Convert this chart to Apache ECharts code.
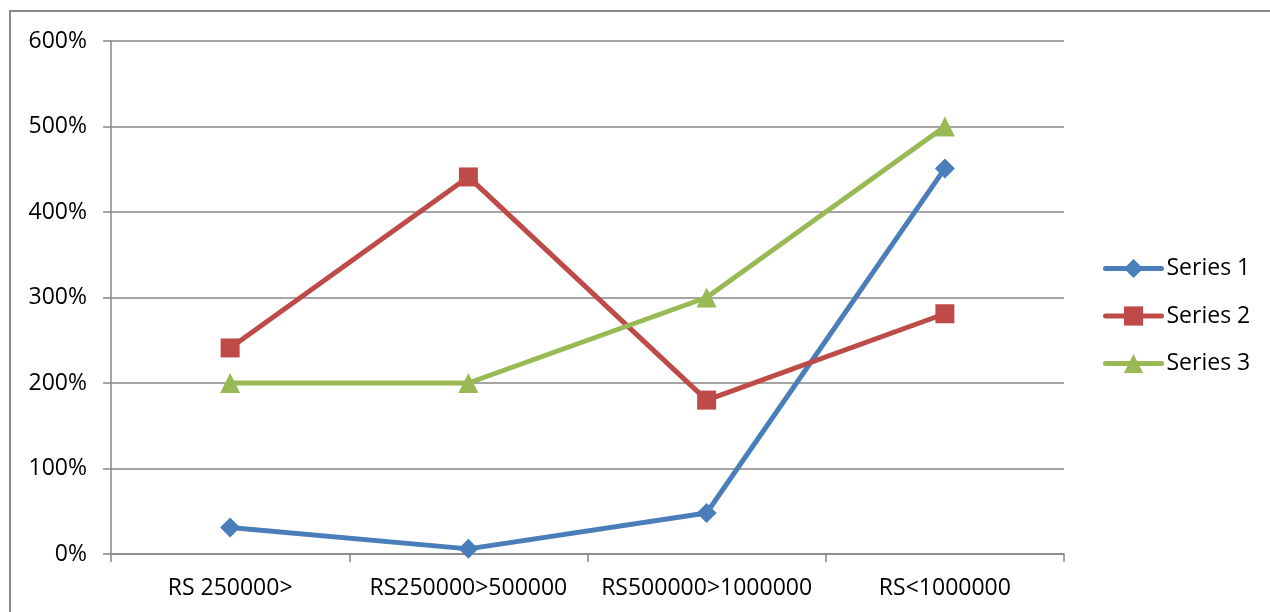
<!DOCTYPE html>
<html>
<head>
<meta charset="utf-8">
<style>
  html, body { margin: 0; padding: 0; background: #fff; }
  #chart { width: 1270px; height: 612px; }
</style>
<script src="https://cdn.jsdelivr.net/npm/echarts@6/dist/echarts.min.js"></script>
</head>
<body>
<div id="chart"></div>
<script>
// Income bands and the three series (values in percent)
const categories = ['RS 250000>', 'RS250000>500000', 'RS500000>1000000', 'RS<1000000'];
const series1 = [31, 6, 48, 451];
const series2 = [241, 441, 180, 281];
const series3 = [200, 200, 300, 500];
const seriesNames = ['Series 1', 'Series 2', 'Series 3'];
const yTicks = [0, 100, 200, 300, 400, 500, 600];

const FONT = 'Open Sans';
const FONT_SIZE = 23;
const GRID_GRAY = '#878787';
const colors = ['#4a7ebb', '#be4b48', '#98b954'];

const chart = echarts.init(document.getElementById('chart'), null, { renderer: 'canvas' });

function lineSeries(name, data, color, symbol, size) {
  return {
    name: name,
    type: 'line',
    data: data,
    symbol: symbol,
    symbolSize: size,
    showAllSymbol: true,
    lineStyle: { color: color, width: 5, cap: 'round' },
    itemStyle: { color: color },
    emphasis: { disabled: true },
    animation: false
  };
}

chart.setOption({
  animation: false,
  backgroundColor: '#ffffff',
  textStyle: { fontFamily: FONT },
  graphic: [{
    type: 'rect',
    shape: { x: 10, y: 11, width: 1600, height: 900 },
    style: { fill: 'none', stroke: '#888888', lineWidth: 2 },
    silent: true,
    z: -1
  }],
  grid: { left: 111, right: 206, top: 41, bottom: 58 },
  legend: {
    orient: 'vertical',
    left: 1103,
    top: 257,
    itemWidth: 56,
    itemHeight: 24,
    itemGap: 24.5,
    padding: 0,
    lineStyle: { width: 5, cap: 'round' },
    data: seriesNames.map((n, i) => ({ name: n, lineStyle: { color: colors[i], width: 5, cap: 'round' } })),
    textStyle: { fontFamily: FONT, fontSize: FONT_SIZE, color: '#000' }
  },
  xAxis: {
    type: 'category',
    data: categories,
    boundaryGap: true,
    axisLine: { lineStyle: { color: GRID_GRAY, width: 1.5 } },
    axisTick: { show: true, length: 8, alignWithLabel: false, lineStyle: { color: GRID_GRAY, width: 1.5 } },
    axisLabel: { fontFamily: FONT, fontSize: FONT_SIZE, color: '#000', margin: 23, interval: 0 },
    splitLine: { show: false }
  },
  yAxis: {
    type: 'value',
    min: yTicks[0],
    max: yTicks[yTicks.length - 1],
    interval: 100,
    axisLine: { show: true, lineStyle: { color: GRID_GRAY, width: 1.5 } },
    axisTick: { show: true, length: 8, lineStyle: { color: GRID_GRAY, width: 1.5 } },
    axisLabel: { fontFamily: FONT, fontSize: FONT_SIZE, color: '#000', margin: 24, formatter: '{value}%' },
    splitLine: { show: true, lineStyle: { color: GRID_GRAY, width: 1.5 } }
  },
  series: [
    lineSeries(seriesNames[0], series1, colors[0], 'diamond', 20),
    lineSeries(seriesNames[1], series2, colors[1], 'rect', 19),
    lineSeries(seriesNames[2], series3, colors[2], 'triangle', 20)
  ]
});
</script>
</body>
</html>
